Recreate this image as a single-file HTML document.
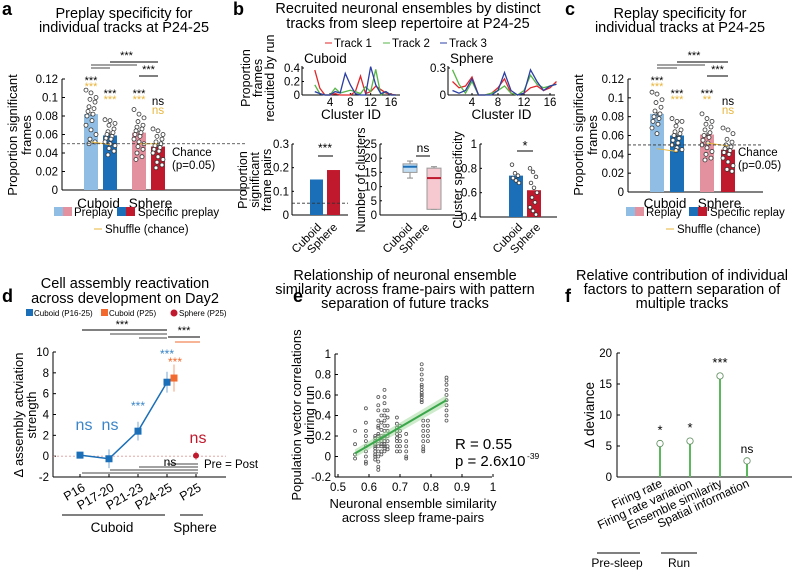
<!DOCTYPE html>
<html><head><meta charset="utf-8"><style>
body{margin:0;background:#fff}
svg{display:block;font-family:"Liberation Sans",Arial,sans-serif}
</style></head><body>
<svg id="fig" width="800" height="570" viewBox="0 0 800 570" xmlns="http://www.w3.org/2000/svg"></svg>
<script>
// ---------- DATA ----------
const barGroups = ["Cuboid", "Sphere"];
const aMeans = [0.082, 0.059, 0.062, 0.047];
const aDots = [
 [0.108,0.105,0.1,0.098,0.095,0.09,0.088,0.085,0.082,0.08,0.075,0.07,0.065,0.06,0.055,0.052,0.05],
 [0.076,0.075,0.072,0.07,0.066,0.063,0.062,0.06,0.058,0.056,0.055,0.052,0.05,0.048,0.045,0.042,0.038],
 [0.087,0.082,0.078,0.074,0.07,0.068,0.066,0.064,0.062,0.06,0.058,0.055,0.052,0.05,0.047,0.044,0.04,0.036,0.033],
 [0.066,0.064,0.06,0.058,0.055,0.052,0.05,0.048,0.046,0.044,0.042,0.04,0.036,0.033,0.03,0.027,0.024]
];
const aShuffle = [0.052, 0.049, 0.05, 0.05];
const cMeans = [0.083, 0.060, 0.061, 0.045];
const cDots = [
 [0.106,0.104,0.098,0.095,0.09,0.086,0.083,0.08,0.078,0.075,0.072,0.068,0.062],
 [0.078,0.075,0.075,0.07,0.066,0.064,0.062,0.06,0.057,0.055,0.052,0.05,0.047,0.045,0.044],
 [0.083,0.078,0.075,0.072,0.069,0.066,0.063,0.06,0.058,0.055,0.052,0.05,0.047,0.043,0.04,0.036,0.034],
 [0.068,0.066,0.062,0.056,0.053,0.05,0.048,0.046,0.044,0.042,0.04,0.036,0.032,0.028,0.024,0.022]
];
const cShuffle = [0.046, 0.043, 0.052, 0.049];
const yTicksA = [0,0.02,0.04,0.06,0.08,0.1,0.12];
const yTickLabelsA = ["0","0.02","0.04","0.06","0.08","0.1","0.12"];

const clusterIds = [1,2,3,4,5,6,7,8,9,10,11,12,13,14,15,16,17];
const cubT1 = [0.37,0.1,0,0,0.02,0,0,0,0.05,0.28,0.02,0.05,0.13,0.08,0.03,0.01,0];
const cubT2 = [0.15,0.02,0,0,0.1,0.03,0.05,0.07,0.05,0.02,0.12,0.05,0.38,0,0.05,0,0];
const cubT3 = [0.05,0.02,0,0,0.05,0.03,0.32,0.15,0.02,0,0,0.42,0.15,0.02,0.05,0,0];
const sphT1 = [0.15,0.08,0.1,0.2,0,0,0.02,0.08,0.18,0.02,0,0.02,0.08,0.1,0.05,0.08,0.15];
const sphT2 = [0.28,0.12,0.02,0.15,0,0,0.02,0.05,0.1,0.02,0,0.05,0.22,0.12,0.08,0.1,0.12];
const sphT3 = [0.05,0.02,0.05,0.18,0,0,0,0.05,0.25,0.05,0,0.02,0.28,0.15,0.05,0.1,0.12];
const clusterTicks = [4,8,12,16];

const pairProp = [0.15, 0.19];
const boxCub = [13,15,17,18,19];   // min q1 med q3 max
const boxSph = [2,2,13,16.5,17];
const specMeans = [0.74, 0.62];
const specDotsCub = [0.83,0.76,0.74,0.72,0.7,0.68];
const specDotsSph = [0.8,0.77,0.73,0.68,0.64,0.6,0.56,0.52,0.48,0.45,0.42];

const dLabels = ["P16","P17-20","P21-23","P24-25","P25"];
const dBlue = [0.1,-0.25,2.4,7.1];
const dBlueErr = [0.3,0.9,0.9,1.0];
const dOrange = 7.5, dOrangeErr = 1.3;
const dRed = 0.05, dRedErr = 0.4;
const dTicks = [-2,0,2,4,6,8,10];

const eColX = [0.555,0.59,0.62,0.63,0.64,0.65,0.66,0.69,0.7,0.72,0.77,0.775,0.79,0.85];
const eColY = [
 [0.25,0.12,0.02,-0.02],
 [0.47,0.33,0.25,0.2,0.15,0.1,0.05,0,-0.05,-0.07],
 [0.2,0.15,0.1,0.08,0.05,0.02,0,-0.03,0.18,0.12],
 [0.58,0.5,0.45,0.35,0.28,0.22,0.15,0.1,0.05,0,-0.05,-0.1,-0.13,0.3,0.2],
 [0.4,0.33,0.26,0.2,0.15,0.1,0.05,0.02,0.18,0.12],
 [0.65,0.58,0.52,0.45,0.4,0.35,0.3,0.25,0.2,0.15,0.1,0.05,0.08,0.12,0.18],
 [0.45,0.38,0.3,0.25,0.2,0.15,0.1,0.07],
 [0.38,0.32,0.28,0.22,0.18,0.15,0.1,0.05,0.25],
 [0.3,0.25,0.2,0.15,0.1,0.05],
 [0.22,0.15,0.1,0.05,0,-0.02],
 [0.9,0.85,0.8,0.75,0.7,0.68,0.65,0.62,0.6,0.58,0.55,0.53],
 [0.35,0.3,0.25,0.2,0.15,0.1,0.07,0.05],
 [0.35,0.3,0.25,0.2,0.15],
 [0.77,0.74,0.7,0.65,0.6,0.55,0.5,0.45,0.4,0.35]
];
const eFit = [[0.555,0.03],[0.85,0.55]];
const eXTicks = [0.5,0.6,0.7,0.8,0.9,1];
const eYTicks = [-0.2,0,0.2,0.4,0.6,0.8,1];

const fFactors = ["Firing rate","Firing rate variation","Ensemble similarity","Spatial information"];
const fValues = [5.4,5.8,16.3,2.6];
const fSig = ["*","*","***","ns"];
const fTicks = [0,5,10,15,20];

// ---------- HELPERS ----------
const svg = document.getElementById('fig');
const NS = "http://www.w3.org/2000/svg";
function mk(tag, at, name, inter) {
  const el = document.createElementNS(NS, tag);
  for (const k in at) el.setAttribute(k, at[k]);
  
  
  svg.appendChild(el); return el;
}
function line(x1,y1,x2,y2,c,w,name,dash){const a={x1,y1,x2,y2,stroke:c||'#000','stroke-width':w||1};if(dash)a['stroke-dasharray']=dash;return mk('line',a,name||'line');}
function text(x,y,s,o,name){o=o||{};const a={x,y,'font-size':o.size||10,fill:o.fill||'#000','text-anchor':o.anchor||'middle'};if(o.weight)a['font-weight']=o.weight;if(o.rot!==undefined)a.transform=`rotate(${o.rot} ${x} ${y})`;const t=mk('text',a,name||'label');t.textContent=s;return t;}
function rect(x,y,w,h,f,name,st){const a={x,y,width:w,height:h,fill:f};if(st){a.stroke=st;a['stroke-width']=1;}return mk('rect',a,name||'rect');}
function circ(cx,cy,r,f,s,name){return mk('circle',{cx,cy,r,fill:f,stroke:s||'none','stroke-width':0.8},name||'point');}
function poly(pts,c,w,name){return mk('polyline',{points:pts.map(p=>p.join(',')).join(' '),fill:'none',stroke:c,'stroke-width':w||1},name||'series-line');}

const LB='#8fbde3', BL='#1a6fb8', PK='#e3919f', RD='#c0182c', YL='#e8b53a';
const TS=14.5, TK=11.5, AT=13;

// ---------- PANEL A & C ----------
function barPanel(o){
  const yS=v=>o.y0-(v/0.12)*(o.y0-o.y12);
  text(o.lx,15,o.letter,{size:18,weight:'bold',anchor:'start'},'panel-letter-'+o.letter);
  text(o.tx,18,o.t1,{size:TS},'panel-'+o.letter+'-title');
  text(o.tx,32,o.t2,{size:TS},'panel-'+o.letter+'-title-line2');
  line(o.ax,o.y12,o.ax,o.y0,'#000',1,'y-axis');
  line(o.ax,o.y0,o.axEnd,o.y0,'#000',1,'x-axis');
  yTicksA.forEach((t,i)=>{line(o.ax,yS(t),o.ax+3,yS(t),'#000',1,'y-tick');text(o.ax-4,yS(t)+4,yTickLabelsA[i],{size:TK,anchor:'end'},'y-tick-label');});
  text(o.ylx,135,'Proportion significant',{size:AT,rot:-90},'y-axis-title');
  text(o.ylx+14,135,'frames',{size:AT,rot:-90},'y-axis-title-line2');
  const cols=[LB,BL,PK,RD];
  o.means.forEach((m,i)=>{
    const x=o.bx[i];
    rect(x,yS(m),14,o.y0-yS(m),cols[i],'bar-'+i);
    line(x+7,yS(m)-2,x+7,yS(m)+2,'#333',1,'error-bar');
    o.dots[i].forEach((d,j)=>circ(x+2+((j*5)%11),yS(d),2,'#fff','#333','dot'));
  });
  poly(o.shuffle.map((v,i)=>[o.bx[i]+7,yS(v)]).slice(0,2),YL,1,'shuffle-line');
  poly(o.shuffle.map((v,i)=>[o.bx[i]+7,yS(v)]).slice(2,4),YL,1,'shuffle-line');
  line(o.ax,yS(0.05),o.axEnd,yS(0.05),'#333',0.8,'chance-line','3,2');
  text(o.ax+110,156,'Chance',{size:TK,anchor:'start'},'chance-label');
  text(o.ax+110,169,'(p=0.05)',{size:TK,anchor:'start'},'chance-label-p');
  text((o.bx[0]+o.bx[1]+14)/2-2,208,barGroups[0],{size:13.5},'x-label-cuboid');
  text((o.bx[2]+o.bx[3]+14)/2+2,208,barGroups[1],{size:13.5},'x-label-sphere');
  const sx=o.bx.map(x=>x+7);
  text(sx[0],84,'***',{size:11},'sig-stars');text(sx[0],90,'***',{size:11,fill:YL},'sig-stars-shuffle');
  text(sx[1],97,'***',{size:11},'sig-stars');text(sx[1],103,'***',{size:11,fill:YL},'sig-stars-shuffle');
  text(sx[2],97,'***',{size:11},'sig-stars');text(sx[2],103,o.sphS,{size:11,fill:YL},'sig-stars-shuffle');
  text(sx[3],105,'ns',{size:11.5},'sig-ns');text(sx[3],114,'ns',{size:11.5,fill:YL},'sig-ns-shuffle');
  line(sx[0],68,sx[1],68,'#444',1,'sig-bracket');
  line(sx[0],65,sx[2]-2,65,'#444',1,'sig-bracket');
  line(sx[1],62,sx[3],62,'#000',1,'sig-bracket');
  text((sx[1]+sx[2])/2+2,59,'***',{size:11},'sig-stars');
  line(sx[2],76,sx[3],76,'#000',1,'sig-bracket');
  text((sx[2]+sx[3])/2,73,'***',{size:11},'sig-stars');
  rect(o.lgx,207,9,9,LB,'legend-swatch');rect(o.lgx+9,207,9,9,PK,'legend-swatch');
  text(o.lgx+20,216,o.l1,{size:TK,anchor:'start'},'legend-entry');
  rect(o.lgx+63,207,9,9,BL,'legend-swatch');rect(o.lgx+72,207,9,9,RD,'legend-swatch');
  text(o.lgx+84,216,o.l2,{size:TK,anchor:'start'},'legend-entry');
  line(o.lgx+40,229,o.lgx+48,229,YL,1,'legend-shuffle-line');
  text(o.lgx+51,233,'Shuffle (chance)',{size:TK,anchor:'start'},'legend-entry');
}
barPanel({letter:'a',lx:2,tx:124,t1:'Preplay specificity for',t2:'individual tracks at P24-25',ax:62,axEnd:246,y0:190,y12:79,
  bx:[84,103,132,151],means:aMeans,dots:aDots,shuffle:aShuffle,ylx:17,sphS:'***',lgx:54,l1:'Preplay',l2:'Specific preplay'});
barPanel({letter:'c',lx:565,tx:680,t1:'Replay specificity for',t2:'individual tracks at P24-25',ax:628,axEnd:763,y0:192,y12:79,
  bx:[650,670,700,721],means:cMeans,dots:cDots,shuffle:cShuffle,ylx:583,sphS:'**',lgx:626,l1:'Replay',l2:'Specific replay'});

// ---------- PANEL B ----------
text(233,15,'b',{size:18,weight:'bold',anchor:'start'},'panel-letter-b');
text(408,13,'Recruited neuronal ensembles by distinct',{size:TS},'panel-b-title');
text(408,28,'tracks from sleep repertoire at P24-25',{size:TS},'panel-b-title-line2');
[['Track 1','#e0262a',335],['Track 2','#59b648',393],['Track 3','#2b3fa4',450]].forEach(([n,c,x])=>{line(x-10,43,x-3,43,c,1,'legend-line');text(x-1,47,n,{size:TK,anchor:'start'},'legend-entry');});
function linePanel(ax,axEnd,x0,dx,ymax,lab,tks,series,title){
  const y0=95,yt=68;const yS=v=>y0-v/ymax*(y0-yt);const xS=c=>x0+dx*c;
  text(ax+2,63,title,{size:13.5,anchor:'start'},'subplot-title');
  line(ax,yt-2,ax,y0,'#000',1,'y-axis');line(ax,y0,axEnd,y0,'#000',1,'x-axis');
  tks.forEach((t,i)=>{line(ax,yS(t),ax+2,yS(t),'#000',1,'y-tick');text(ax-2,yS(t)+4,lab[i],{size:TK,anchor:'end'},'y-tick-label');});
  clusterTicks.forEach(c=>{line(xS(c),y0,xS(c),y0-2,'#000',1,'x-tick');text(xS(c),106,String(c),{size:TK},'x-tick-label');});
  text((ax+axEnd)/2,119,'Cluster ID',{size:13.5},'x-axis-title');
  const cols=['#e0262a','#59b648','#2b3fa4'];
  series.forEach((s,k)=>poly(clusterIds.map((c,i)=>[xS(c),yS(s[i])]),cols[k],1.3,'track-'+(k+1)+'-line'));
}
linePanel(302,400,309.7,5.08,0.4,['0','0.2','0.4'],[0,0.2,0.4],[cubT1,cubT2,cubT3],'Cuboid');
linePanel(448,555,446,6.5,0.3,['0','0.3'],[0,0.3],[sphT1,sphT2,sphT3],'Sphere');
text(250,78,'Proportion',{size:12.5,rot:-90},'y-axis-title');
text(262,78,'frames',{size:12.5,rot:-90},'y-axis-title');
text(274,78,'recruited by run',{size:12.5,rot:-90},'y-axis-title');
(function(){const ax=292,y0=215,yt=144;const yS=v=>y0-v/0.3*(y0-yt);
 line(ax,yt,ax,y0,'#000',1,'y-axis');line(ax,y0,348,y0,'#000',1,'x-axis');
 [0,0.1,0.2,0.3].forEach(t=>{line(ax,yS(t),ax+2,yS(t),'#000',1,'y-tick');text(ax-3,yS(t)+4,t===0?'0':String(t),{size:TK,anchor:'end'},'y-tick-label');});
 rect(310,yS(pairProp[0]),13,y0-yS(pairProp[0]),BL,'bar-cuboid');rect(327,yS(pairProp[1]),13,y0-yS(pairProp[1]),RD,'bar-sphere');
 line(ax,yS(0.05),348,yS(0.05),'#333',0.8,'chance-line','3,2');
 line(318,156,333,156,'#000',1,'sig-bracket');text(325,152,'***',{size:12},'sig-stars');
 text(322,228,'Cuboid',{size:TK,anchor:'end',rot:-45},'x-label-cuboid');text(338,228,'Sphere',{size:TK,anchor:'end',rot:-45},'x-label-sphere');
 text(247,180,'Proportion',{size:12.5,rot:-90},'y-axis-title');text(259,180,'significant',{size:12.5,rot:-90},'y-axis-title');text(271,180,'frame pairs',{size:12.5,rot:-90},'y-axis-title');
})();
(function(){const ax=380,y0=215,yt=144;const yS=v=>y0-v/25*(y0-yt);
 line(ax,yt,ax,y0,'#000',1,'y-axis');line(ax,y0,455,y0,'#000',1,'x-axis');
 [0,5,10,15,20,25].forEach(t=>{line(ax,yS(t),ax+2,yS(t),'#000',1,'y-tick');text(ax-3,yS(t)+4,String(t),{size:TK,anchor:'end'},'y-tick-label');});
 [[boxCub,410,'#bfdcf2',BL,'box-cuboid'],[boxSph,434,'#f6c9d0',RD,'box-sphere']].forEach(([b,x,f,m,n])=>{
  line(x,yS(b[0]),x,yS(b[4]),'#888',1,'whisker');line(x-3,yS(b[0]),x+3,yS(b[0]),'#888',1,'whisker-cap');line(x-3,yS(b[4]),x+3,yS(b[4]),'#888',1,'whisker-cap');
  rect(x-7,yS(b[3]),14,yS(b[1])-yS(b[3]),f,n,'#999');line(x-7,yS(b[2]),x+7,yS(b[2]),m,2,'median');});
 line(416,156,430,156,'#000',1,'sig-bracket');text(423,152,'ns',{size:12},'sig-ns');
 text(413,228,'Cuboid',{size:TK,anchor:'end',rot:-45},'x-label-cuboid');text(430,228,'Sphere',{size:TK,anchor:'end',rot:-45},'x-label-sphere');
 text(365,180,'Number of clusters',{size:12.5,rot:-90},'y-axis-title');
})();
(function(){const ax=480,y0=217,yt=144;const yS=v=>y0-(v-0.4)/0.6*(y0-yt);
 line(ax,yt,ax,y0,'#000',1,'y-axis');line(ax,y0,557,y0,'#000',1,'x-axis');
 [0.4,0.6,0.8,1].forEach(t=>{line(ax,yS(t),ax+2,yS(t),'#000',1,'y-tick');text(ax-3,yS(t)+4,t===1?'1':String(t),{size:TK,anchor:'end'},'y-tick-label');});
 rect(509,yS(specMeans[0]),14,y0-yS(specMeans[0]),BL,'bar-cuboid');rect(527,yS(specMeans[1]),14,y0-yS(specMeans[1]),RD,'bar-sphere');
 specDotsCub.forEach((d,j)=>circ(512+(j*3)%8,yS(d),1.8,'#fff','#333','dot'));
 specDotsSph.forEach((d,j)=>circ(530+(j*3)%8,yS(d),1.8,'#fff','#333','dot'));
 line(517,151,533,151,'#000',1,'sig-bracket');text(525,150,'*',{size:13},'sig-stars');
 text(523,228,'Cuboid',{size:TK,anchor:'end',rot:-45},'x-label-cuboid');text(541,228,'Sphere',{size:TK,anchor:'end',rot:-45},'x-label-sphere');
 text(462,180,'Cluster specificity',{size:12.5,rot:-90},'y-axis-title');
})();

// ---------- PANEL D ----------
(function(){
 text(2,302,'d',{size:18,weight:'bold',anchor:'start'},'panel-letter-d');
 text(125,288,'Cell assembly reactivation',{size:TS},'panel-d-title');
 text(125,303,'across development on Day2',{size:TS},'panel-d-title-line2');
 rect(26,309,7,7,BL,'legend-swatch');text(34,316,'Cuboid (P16-25)',{size:8,anchor:'start'},'legend-entry');
 rect(101,309,7,7,'#f26a2e','legend-swatch');text(109,316,'Cuboid (P25)',{size:8,anchor:'start'},'legend-entry');
 circ(174,313,3.5,RD,'none','legend-marker');text(179,316,'Sphere (P25)',{size:8,anchor:'start'},'legend-entry');
 const ax=53,y0=477,ytop=352;const yS=v=>ytop+(10-v)/12*(y0-ytop);const xs=[80,109,138,167,196];
 line(ax,ytop,ax,y0,'#000',1,'y-axis');line(ax,y0,226,y0,'#000',1,'x-axis');
 dTicks.forEach(t=>{line(ax,yS(t),ax+3,yS(t),'#000',1,'y-tick');text(ax-4,yS(t)+4,String(t),{size:TK,anchor:'end'},'y-tick-label');});
 line(ax,yS(0),226,yS(0),'#d99',0.8,'zero-line','2,2');
 dLabels.forEach((l,i)=>{line(xs[i],y0,xs[i],y0-3,'#000',1,'x-tick');text(xs[i]+6,y0+13,l,{size:12.5,anchor:'end',rot:-30},'x-tick-label');});
 poly(dBlue.map((v,i)=>[xs[i],yS(v)]),BL,1.5,'series-cuboid-line');
 dBlue.forEach((v,i)=>{line(xs[i],yS(v-dBlueErr[i]),xs[i],yS(v+dBlueErr[i]),'#7aa8d6',1,'error-bar');rect(xs[i]-3.5,yS(v)-3.5,7,7,BL,'point-cuboid');});
 const ox=174;line(ox,yS(dOrange-dOrangeErr),ox,yS(dOrange+dOrangeErr),'#f5a27a',1,'error-bar');rect(ox-3.5,yS(dOrange)-3.5,7,7,'#f26a2e','point-cuboid-p25');
 line(xs[4],yS(dRed-dRedErr),xs[4],yS(dRed+dRedErr),'#e08090',1,'error-bar');circ(xs[4],yS(dRed),3,RD,'none','point-sphere-p25');
 text(84,430,'ns',{size:16,fill:'#3a85c8'},'sig-ns');text(110,430,'ns',{size:16,fill:'#3a85c8'},'sig-ns');
 text(198,443,'ns',{size:16,fill:RD},'sig-ns');
 text(138,410,'***',{size:12,fill:'#3a85c8'},'sig-stars');text(167,358,'***',{size:12,fill:'#3a85c8'},'sig-stars');text(175,366,'***',{size:12,fill:'#f26a2e'},'sig-stars');
 line(82,330,167,330,'#000',1,'sig-bracket');line(110,334,167,334,'#444',1,'sig-bracket');line(139,338,167,338,'#444',1,'sig-bracket');
 text(122,328,'***',{size:11},'sig-stars');
 line(168,337,200,337,'#000',1,'sig-bracket');line(175,342,200,342,'#f26a2e',1,'sig-bracket');text(184,334,'***',{size:11},'sig-stars');
 [[82,473],[110,470],[139,467],[167,464]].forEach(([x,y])=>line(x,y,198,y,'#444',1,'sig-bracket-below'));
 text(170,466,'ns',{size:12},'sig-ns');text(204,468,'Pre = Post',{size:TK,anchor:'start'},'pre-post-label');
 line(62,515,165,515,'#000',1,'group-bracket-cuboid');text(112,532,'Cuboid',{size:13.5},'group-label-cuboid');
 line(180,515,203,515,'#000',1,'group-bracket-sphere');text(195,532,'Sphere',{size:13.5},'group-label-sphere');
 text(23,415,'Δ assembly actviation',{size:AT,rot:-90},'y-axis-title');text(36,415,'strength',{size:AT,rot:-90},'y-axis-title');
})();

// ---------- PANEL E ----------
(function(){
 text(293,302,'e',{size:18,weight:'bold',anchor:'start'},'panel-letter-e');
 text(405,280,'Relationship of neuronal ensemble',{size:TS},'panel-e-title');
 text(405,294,'similarity across frame-pairs with pattern',{size:TS},'panel-e-title-line2');
 text(405,308,'separation of future tracks',{size:TS},'panel-e-title-line3');
 const xS=v=>338+(v-0.5)/0.5*155;const yS=v=>477-(v+0.2)/1.2*(477-354);
 line(335,354,335,477,'#000',1,'y-axis');line(335,477,492,477,'#000',1,'x-axis');
 eYTicks.forEach(t=>{line(335,yS(t),338,yS(t),'#000',1,'y-tick');text(331,yS(t)+4,String(t),{size:TK,anchor:'end'},'y-tick-label');});
 eXTicks.forEach(t=>{line(xS(t),477,xS(t),474,'#000',1,'x-tick');text(xS(t),491,String(t),{size:TK},'x-tick-label');});
 eColX.forEach((x,i)=>eColY[i].forEach(y=>circ(xS(x),yS(y),1.5,'none','#555','scatter-point')));
 mk('polygon',{points:`${xS(eFit[0][0])},${yS(eFit[0][1])-4} ${xS(eFit[1][0])},${yS(eFit[1][1])-5} ${xS(eFit[1][0])},${yS(eFit[1][1])+5} ${xS(eFit[0][0])},${yS(eFit[0][1])+4}`,fill:'#9dd89a',opacity:0.5},'fit-ci');
 line(xS(eFit[0][0]),yS(eFit[0][1]),xS(eFit[1][0]),yS(eFit[1][1]),'#3aa84a',2,'fit-line');
 text(455,449,'R = 0.55',{size:15,anchor:'start'},'r-value');
 text(455,466,'p = 2.6x10',{size:15,anchor:'start'},'p-value');
 text(527,459,'-39',{size:8.5,anchor:'start'},'p-exponent');
 text(301,415,'Population vector correlations',{size:AT,rot:-90},'y-axis-title');text(314,415,'during run',{size:AT,rot:-90},'y-axis-title');
 text(413,508,'Neuronal ensemble similarity',{size:AT},'x-axis-title');text(413,522,'across sleep frame-pairs',{size:AT},'x-axis-title-line2');
})();

// ---------- PANEL F ----------
(function(){
 text(565,302,'f',{size:18,weight:'bold',anchor:'start'},'panel-letter-f');
 text(682,280,'Relative contribution of individual',{size:TS},'panel-f-title');
 text(682,294,'factors to pattern separation of',{size:TS},'panel-f-title-line2');
 text(682,308,'multiple tracks',{size:TS},'panel-f-title-line3');
 const yS=v=>477-v/20*(477-353);const xs=[660,690,720,747];
 line(617,353,617,477,'#000',1,'y-axis');line(617,477,792,477,'#000',1,'x-axis');
 fTicks.forEach(t=>{line(617,yS(t),620,yS(t),'#000',1,'y-tick');text(612,yS(t)+4,String(t),{size:TK,anchor:'end'},'y-tick-label');});
 fValues.forEach((v,i)=>{line(xs[i],477,xs[i],yS(v),'#5cb85c',2,'stem-'+i);circ(xs[i],yS(v),3.2,'#fff','#5a8a5a','stem-head');
  text(xs[i],yS(v)-(fSig[i]==='ns'?8:9),fSig[i],{size:fSig[i]==='ns'?12:13},'sig-label');
  text(xs[i]+3,486,fFactors[i],{size:12,anchor:'end',rot:-25},'x-tick-label');});
 text(594,415,'Δ deviance',{size:13.5,rot:-90},'y-axis-title');
 line(597,553,640,553,'#000',1,'group-bracket-presleep');text(617,567,'Pre-sleep',{size:12},'group-label-presleep');
 line(661,553,697,553,'#000',1,'group-bracket-run');text(679,567,'Run',{size:12},'group-label-run');
})();
</script>
</body></html>
